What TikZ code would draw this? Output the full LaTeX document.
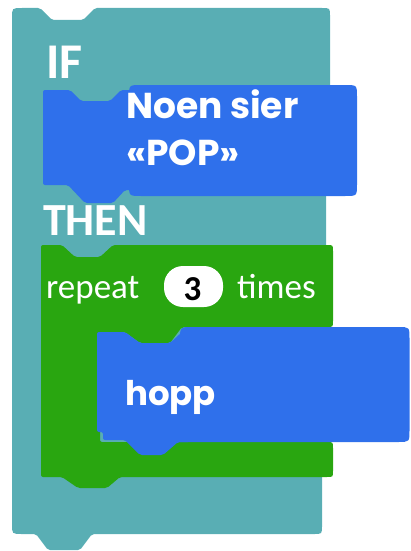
\documentclass[tikz,border=0pt]{standalone}
\usepackage{fontspec}
\newfontfamily\carl{Carlito}
\newfontfamily\popf{Poppins}
\definecolor{tealblk}{RGB}{89,174,180}
\definecolor{blueblk}{RGB}{47,112,235}
\definecolor{greenblk}{RGB}{41,166,16}
\begin{document}
\begin{tikzpicture}[x=1pt,y=-1pt,
  lbl/.style={text=white, inner sep=0pt, anchor=base west},
  pillbox/.style={fill=white, rounded corners=19pt, minimum width=59pt, minimum height=41pt, inner sep=0pt}]
\useasboundingbox (0,0) rectangle (410,551);
% teal IF/THEN C block
\fill[tealblk, rounded corners=2pt] (12,20) .. controls (12,8) .. (24,8) -- (40,8) -- (52,20) -- (83,20) -- (95,8) -- (320,8) .. controls (330,8) .. (330,18) -- (330,150) -- (326,150) -- (326,470) -- (322,470) -- (322,524) .. controls (322,534) .. (312,534) -- (92,534) -- (80,550) -- (48,550) -- (36,534) -- (24,534) .. controls (12,534) .. (12,522) -- cycle;
% blue condition block
\fill[blueblk, rounded corners=2pt] (43,90) -- (70,90) -- (81,101) -- (110,101) -- (121,90) -- (136,90) -- (136,190) -- (125,190) -- (113,203) -- (85,203) -- (68,185) -- (43,185) -- cycle;
\fill[blueblk] (129,97) .. controls (129,85) .. (141,85) -- (345,85) .. controls (357,85) .. (357,97) -- (357,184) .. controls (357,196) .. (345,196) -- (141,196) .. controls (129,196) .. (129,184) -- cycle;
% green repeat block
\fill[greenblk, rounded corners=2pt] (41,245) -- (62,245) -- (75,257) -- (100,257) -- (113,245) -- (325,245) .. controls (333,245) .. (333,253) -- (333,319) .. controls (333,327) .. (325,327) -- (182,327) -- (170,343) -- (140,343) -- (125,332) -- (100,332) -- (100,442) -- (325,442) .. controls (333,442) .. (333,450) -- (333,469) .. controls (333,477) .. (325,477) -- (120,477) -- (107,488) -- (78,488) -- (62,477) -- (41,477) -- cycle;
% blue hopp block
\fill[blueblk, rounded corners=2pt] (97,332) -- (125,332) -- (140,343) -- (170,343) -- (182,332) -- (190,332) -- (190,442) -- (178,442) -- (163,455) -- (140,455) -- (125,440) -- (103,440) -- (103,432) -- (97,432) -- cycle;
\fill[blueblk] (180,340) .. controls (180,327) .. (193,327) -- (398,327) .. controls (409.5,327) .. (409.5,339) -- (409.5,430) .. controls (409.5,442) .. (398,442) -- (180,442) -- cycle;
% texts
\node[lbl, font=\carl\bfseries\fontsize{50}{50}\selectfont] (tif) at (46,78) {IF};
\node[lbl, font=\carl\bfseries\fontsize{46}{46}\selectfont] (tthen) at (43,235) {THEN};
\node[lbl, font=\popf\bfseries\fontsize{36}{36}\selectfont] (tnoen) at (126,118) {Noen sier};
\node[lbl, font=\popf\bfseries\fontsize{36}{36}\selectfont] (tpop) at (126,165) {«POP»};
\node[lbl, font=\carl\fontsize{35}{35}\selectfont] (trep) at (46,298) {repeat};
\node[pillbox] (pill) at (193.5,286.5) {};
\node[inner sep=0pt, anchor=base, font=\carl\bfseries\fontsize{35}{35}\selectfont] (t3) at (192.5,300) {3};
\node[lbl, font=\carl\fontsize{35}{35}\selectfont] (ttimes) at (237,298) {times};
\node[lbl, font=\popf\bfseries\fontsize{34}{34}\selectfont] (thopp) at (125,405) {hopp};
\end{tikzpicture}
\end{document}
